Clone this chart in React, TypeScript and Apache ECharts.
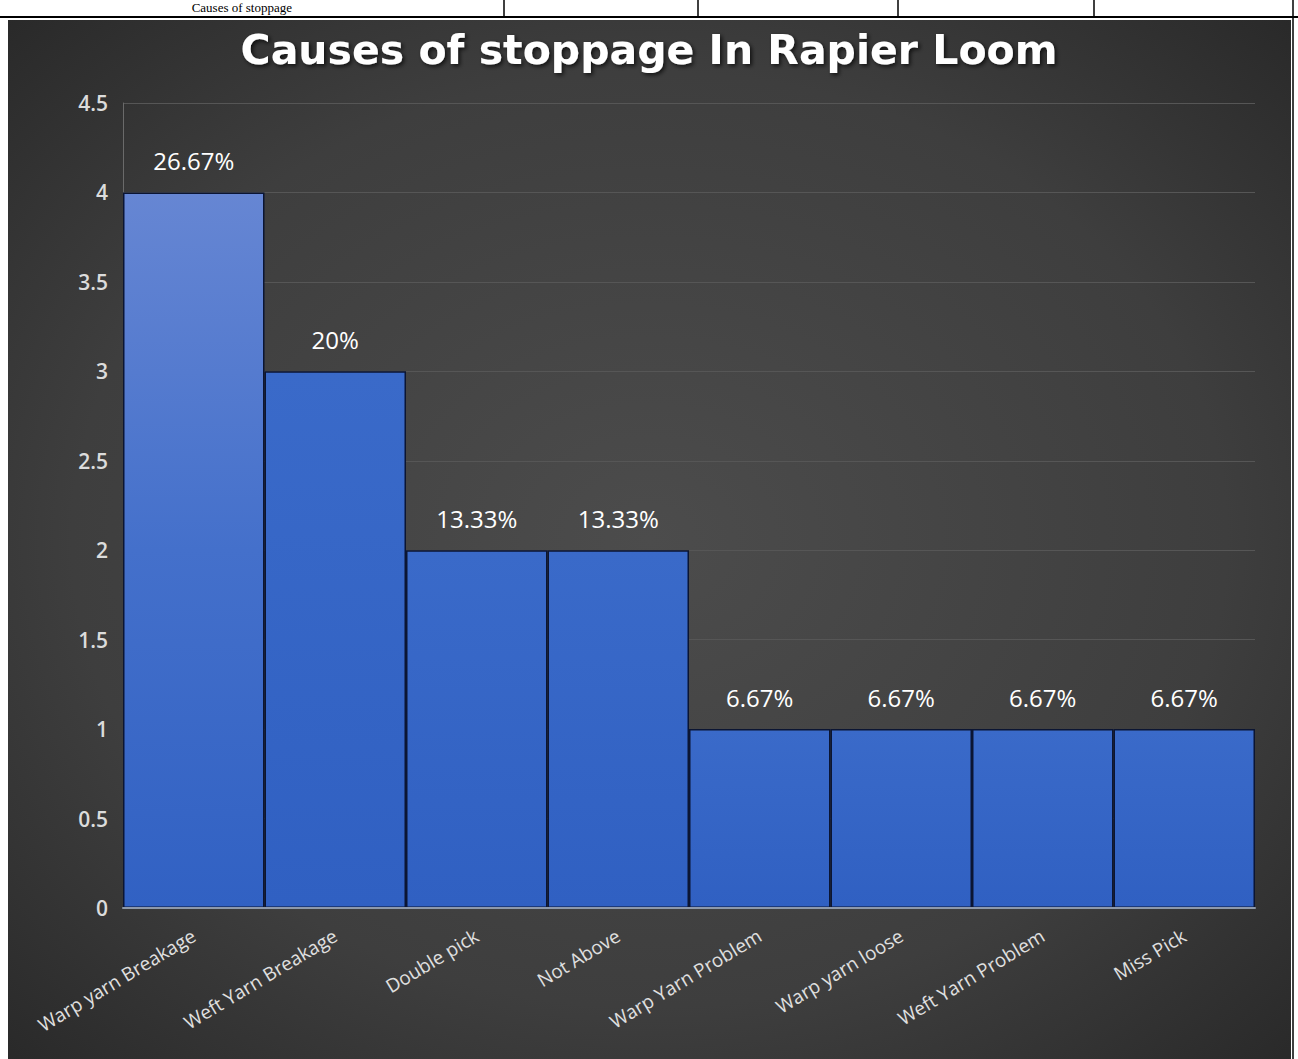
import React, { useEffect, useRef } from "react";
import * as echarts from "echarts";

const categories = [
  "Warp yarn Breakage",
  "Weft Yarn Breakage",
  "Double pick",
  "Not Above",
  "Warp Yarn Problem",
  "Warp yarn loose",
  "Weft Yarn Problem",
  "Miss Pick",
];
const counts = [4, 3, 2, 2, 1, 1, 1, 1];
const percentLabels = ["26.67%", "20%", "13.33%", "13.33%", "6.67%", "6.67%", "6.67%", "6.67%"];
const yMin = 0;
const yMax = 4.5;
const yStep = 0.5;

const W = 1298;
const H = 1059;

export default function App() {
  const ref = useRef<HTMLDivElement>(null);
  useEffect(() => {
    document.body.style.margin = "0";
    const chart = echarts.init(ref.current!, undefined, { renderer: "svg" });
    const barGrad = new echarts.graphic.LinearGradient(0, 0, 0, 1, [
      { offset: 0, color: "#3a6ac9" },
      { offset: 1, color: "#3060c2" },
    ]);
    const firstGrad = new echarts.graphic.LinearGradient(0, 0, 0, 1, [
      { offset: 0, color: "#6686d3" },
      { offset: 0.5, color: "#4470cb" },
      { offset: 1, color: "#3161c3" },
    ]);
    chart.setOption({
      animation: false,
      backgroundColor: "#ffffff",
      title: {
        text: "Causes of stoppage In Rapier Loom",
        left: "center",
        top: 29,
        padding: 0,
        textStyle: {
          color: "#ffffff",
          fontSize: 41,
          fontWeight: "bold",
          fontFamily: "DejaVu Sans, sans-serif",
          textShadowColor: "rgba(0,0,0,0.7)",
          textShadowBlur: 4,
          textShadowOffsetX: 2,
          textShadowOffsetY: 2,
        },
      },
      graphic: [
        {
          type: "rect",
          z: -100,
          silent: true,
          shape: { x: 8, y: 20, width: 1283, height: H - 20 },
          style: {
            fill: new echarts.graphic.RadialGradient(0.5, 0.5, 0.75, [
              { offset: 0, color: "#4c4c4c" },
              { offset: 0.6, color: "#3e3e3e" },
              { offset: 1, color: "#262626" },
            ]),
          },
        },
        {
          type: "line",
          silent: true,
          shape: { x1: 0, y1: 17, x2: W, y2: 17 },
          style: { stroke: "#000", lineWidth: 2 },
        },
        ...[504, 698, 898, 1094, 1293].map((x) => ({
          type: "line",
          silent: true,
          shape: { x1: x, y1: 0, x2: x, y2: 17 },
          style: { stroke: "#000", lineWidth: 1.5 },
        })),
        {
          type: "line",
          silent: true,
          shape: { x1: 1293, y1: 17, x2: 1293, y2: H },
          style: { stroke: "#000", lineWidth: 1.5 },
        },
        {
          type: "text",
          silent: true,
          x: 292,
          y: 14,
          style: {
            text: "Causes of stoppage",
            font: "13px 'Liberation Serif', serif",
            fill: "#000",
            align: "right",
            verticalAlign: "bottom",
          },
        },
      ],
      grid: { left: 123, right: 43, top: 103, bottom: H - 908 },
      xAxis: {
        type: "category",
        data: categories,
        axisTick: { show: false },
        axisLine: { lineStyle: { color: "#8e99ab", width: 2 } },
        axisLabel: {
          rotate: 31,
          margin: 26,
          interval: 0,
          color: "#e0e0e0",
          fontSize: 19,
          fontFamily: "Open Sans, sans-serif",
        },
        z: 3,
      },
      yAxis: {
        type: "value",
        min: yMin,
        max: yMax,
        interval: yStep,
        axisLine: { show: true, lineStyle: { color: "#6a6a6a", width: 1 } },
        axisTick: { show: false },
        splitLine: { lineStyle: { color: "#565656", width: 1 } },
        axisLabel: {
          margin: 15,
          color: "#dcdcdc",
          fontSize: 21,
          fontWeight: 600,
          fontFamily: "Open Sans, sans-serif",
        },
      },
      series: [
        {
          type: "bar",
          barCategoryGap: "0%",
          data: counts.map((v, i) => ({
            value: v,
            itemStyle: { color: i === 0 ? firstGrad : barGrad },
          })),
          itemStyle: { borderColor: "#0b1533", borderWidth: 1.5 },
          label: {
            show: true,
            position: "top",
            distance: 20,
            color: "#ffffff",
            fontSize: 24,
            fontFamily: "Open Sans, sans-serif",
            formatter: (p: any) => percentLabels[p.dataIndex],
          },
        },
      ],
    });
    return () => chart.dispose();
  }, []);
  return <div ref={ref} style={{ width: W, height: H }} />;
}
